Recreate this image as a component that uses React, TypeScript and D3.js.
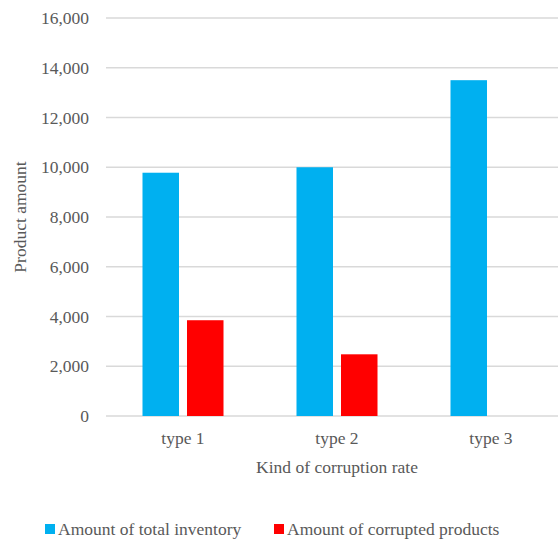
import React from "react";
import * as d3 from "d3";

// Chart data
const categories: string[] = ["type 1", "type 2", "type 3"];
const seriesNames: string[] = ["Amount of total inventory", "Amount of corrupted products"];
const totalInventory: number[] = [9780, 10000, 13500];
const corruptedProducts: number[] = [3850, 2480, 0];
const yTicks: number[] = [0, 2000, 4000, 6000, 8000, 10000, 12000, 14000, 16000];
const seriesColors: string[] = ["#00B0F0", "#FF0000"];

const W = 558;
const H = 540;
const FONT = "Liberation Serif, Times New Roman, Times, serif";
const TEXT = "#595959";

export default function App() {
  const left = 106;
  const right = 568;
  const top = 18;
  const bottom = 416;

  const x = d3.scaleBand<string>().domain(categories).range([left, right]).paddingInner(0).paddingOuter(0);
  const inner = d3
    .scaleBand<string>()
    .domain(seriesNames)
    .range([0, x.bandwidth()])
    .paddingInner(0.18)
    .paddingOuter(0.82);
  const y = d3.scaleLinear().domain([0, 16000]).range([bottom, top]);
  const fmt = d3.format(",");

  const series = [totalInventory, corruptedProducts];
  const textStyle = { fontFamily: FONT, fontSize: 17.5 };

  return (
    <svg
      width={W}
      height={H}
      style={{ position: "absolute", left: 0, top: 0, background: "#fff", fontFamily: FONT }}
    >
      {/* gridlines */}
      {yTicks.map((t) => (
        <line key={t} x1={left} x2={right} y1={y(t)} y2={y(t)} stroke="#D9D9D9" strokeWidth={1.3} />
      ))}
      {/* y tick labels */}
      {yTicks.map((t) => (
        <text key={t} x={89} y={y(t) + 6} textAnchor="end" style={textStyle} fill={TEXT}>
          {fmt(t)}
        </text>
      ))}
      {/* bars */}
      {categories.map((c, i) =>
        series.map((vals, s) =>
          vals[i] > 0 ? (
            <rect
              key={c + s}
              x={(x(c) as number) + (inner(seriesNames[s]) as number)}
              width={inner.bandwidth()}
              y={y(vals[i])}
              height={y(0) - y(vals[i])}
              fill={seriesColors[s]}
            />
          ) : null
        )
      )}
      {/* category labels */}
      {categories.map((c) => (
        <text
          key={c}
          x={(x(c) as number) + x.bandwidth() / 2}
          y={444}
          textAnchor="middle"
          style={textStyle}
          fill={TEXT}
        >
          {c}
        </text>
      ))}
      {/* axis titles */}
      <text x={337} y={473} textAnchor="middle" style={textStyle} fill={TEXT}>
        Kind of corruption rate
      </text>
      <text
        transform={`translate(26, ${(top + bottom) / 2}) rotate(-90)`}
        textAnchor="middle"
        style={textStyle}
        fill={TEXT}
      >
        Product amount
      </text>
      {/* legend */}
      <rect x={45} y={524} width={10} height={10} fill={seriesColors[0]} />
      <text x={58} y={535} style={textStyle} fill={TEXT}>
        {seriesNames[0]}
      </text>
      <rect x={274} y={524} width={10} height={10} fill={seriesColors[1]} />
      <text x={287} y={535} style={textStyle} fill={TEXT}>
        {seriesNames[1]}
      </text>
    </svg>
  );
}
